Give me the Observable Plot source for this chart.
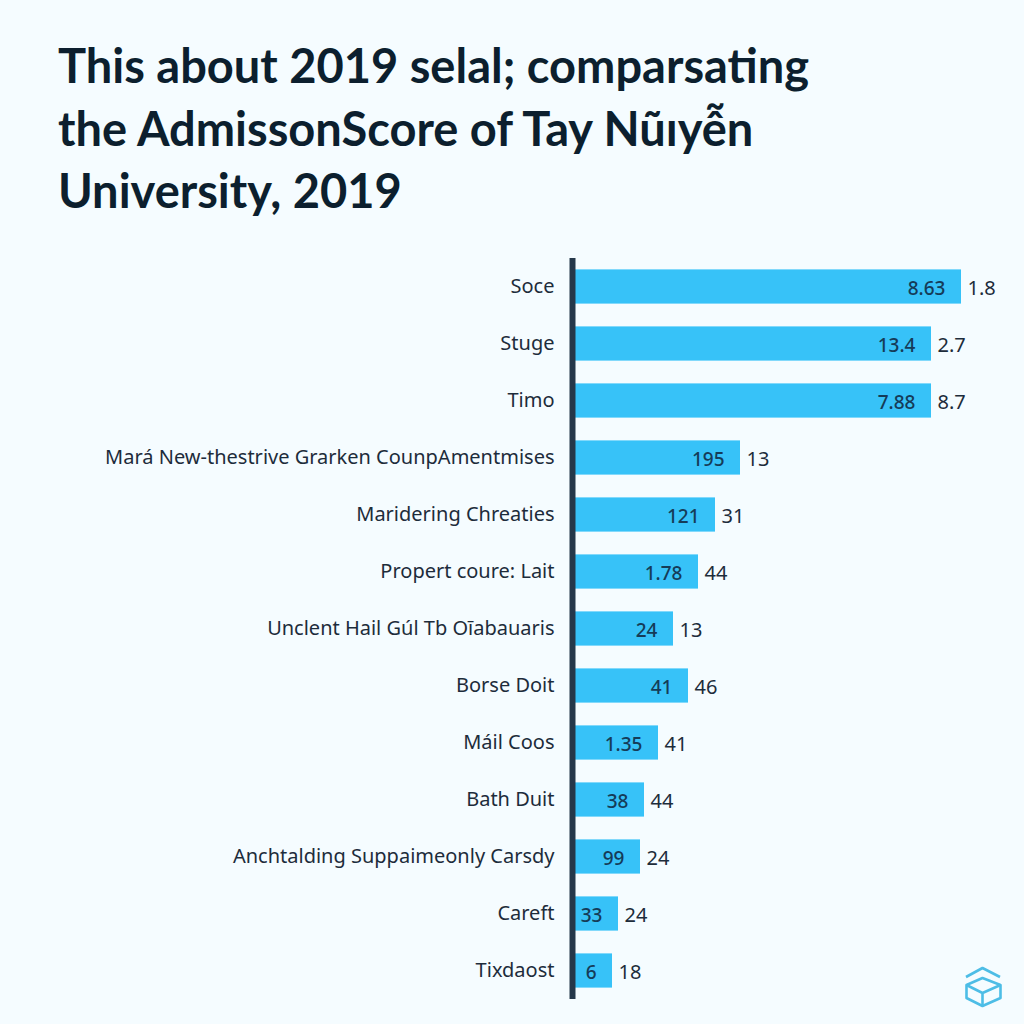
<!DOCTYPE html>
<html>
<head>
<meta charset="utf-8">
<script src="https://cdn.jsdelivr.net/npm/d3@7"></script>
<script src="https://cdn.jsdelivr.net/npm/@observablehq/plot@0.6"></script>
<style>
html,body{margin:0;padding:0;background:#f5fcff;width:1024px;height:1024px;overflow:hidden}
#wrap{position:relative;width:1024px;height:1024px}
#title{position:absolute;left:58px;top:34px;margin:0;font:700 47px/62.5px Lato,sans-serif;color:#0c1f2e;white-space:nowrap}
#chart{position:absolute;left:0;top:258px}
#chart svg{display:block;background:transparent}
#logo{position:absolute;left:962px;top:965px}
</style>
</head>
<body>
<div id="wrap">
<h1 id="title">This about 2019 selal; comparsating<br>the AdmissonScore of Tay Nũıyễn<br>University, 2019</h1>
<div id="chart"></div>
<svg id="logo" width="42" height="44" viewBox="0 0 42 44" fill="none" stroke="#4dbde6" stroke-width="2.6" stroke-linejoin="round">
<path d="M4 12 L20.5 3 L38 12"/>
<path d="M4.5 20 L20.5 13 L38.5 20 L38.5 33 L20.5 41 L4.5 33 Z"/>
<path d="M4.5 20 L20.5 28 L38.5 20 M20.5 28 L20.5 41"/>
</svg>
</div>
<script>
const categories = ["Soce","Stuge","Timo","Mará New-thestrive Grarken CounpAmentmises","Maridering Chreaties","Propert coure: Lait","Unclent Hail Gúl Tb Oīabauaris","Borse Doit","Máil Coos","Bath Duit","Anchtalding Suppaimeonly Carsdy","Careft","Tixdaost"];
const barLengths = [386,356,356,165,140,123,98,113,83,69,65,43,37];
const innerLabels = ["8.63","13.4","7.88","195","121","1.78","24","41","1.35","38","99","33","6"];
const outerLabels = ["1.8","2.7","8.7","13","31","44","13","46","41","44","24","24","18"];

const rows = categories.map((c,i)=>({category:c,length:barLengths[i],inner:innerLabels[i],outer:outerLabels[i]}));
const font = "'Noto Sans', sans-serif";

const plot = Plot.plot({
  width:1024,
  height:741,
  marginLeft:575,
  marginRight:49,
  marginTop:0,
  marginBottom:0,
  style:{background:"transparent",fontFamily:font},
  x:{domain:[0,400],axis:null},
  y:{domain:categories,paddingInner:0.4,paddingOuter:0.2,round:false,label:null},
  marks:[
    Plot.barX(rows,{x:"length",y:"category",fill:"#37c2f8"}),
    Plot.ruleX([0],{dx:-3,stroke:"#25384a",strokeWidth:6}),
    Plot.axisY({tickSize:0,tickPadding:21,fontSize:20,color:"#1d2c3b",label:null,fontWeight:400}),
    Plot.text(rows,{x:"length",y:"category",text:"inner",textAnchor:"end",dx:-16,dy:2,fontSize:19,fill:"#153c58",fontWeight:500}),
    Plot.text(rows,{x:"length",y:"category",text:"outer",textAnchor:"start",dx:6,dy:2,fontSize:20,fill:"#1d2c3b"})
  ]
});
document.getElementById("chart").appendChild(plot);
</script>
</body>
</html>
